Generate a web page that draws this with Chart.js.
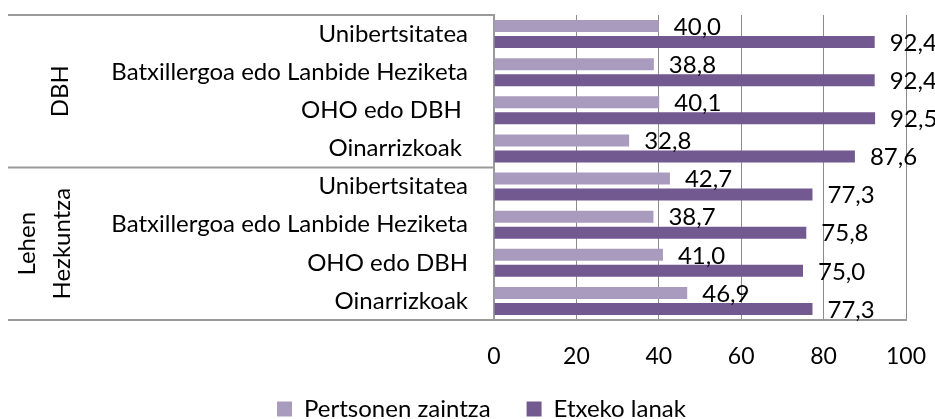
<!DOCTYPE html>
<html>
<head>
<meta charset="utf-8">
<script src="https://cdn.jsdelivr.net/npm/chart.js@4.4.0/dist/chart.umd.min.js"></script>
<style>
  body { margin: 0; background: #fff; }
  #wrap { width: 935px; height: 419px; }
</style>
</head>
<body>
<div id="wrap"><canvas id="myChart" width="935" height="419"></canvas></div>
<script>
// category labels, top to bottom (trailing spaces are in the original)
const categories = ['Unibertsitatea', 'Batxillergoa edo Lanbide Heziketa', 'OHO edo DBH ', 'Oinarrizkoak ',
                    'Unibertsitatea', 'Batxillergoa edo Lanbide Heziketa', 'OHO edo DBH', 'Oinarrizkoak'];
const groupNames = [['DBH'], ['Lehen', 'Hezkuntza']];
const groupSizes = [4, 4];

const zaintza = [40.0, 38.8, 40.1, 32.8, 42.7, 38.7, 41.0, 46.9];
const etxeko = [92.4, 92.4, 92.5, 87.6, 77.3, 75.8, 75.0, 77.3];
const seriesNames = ['Pertsonen zaintza', 'Etxeko lanak'];

const xMin = 0, xMax = 100, xStep = 20;

const FONT = 'Lato';
const FSIZE = 24;
const lineColor = '#9a9a9a';

// draws group separators, group names and the value labels
const extras = {
    id: 'extras',
    afterLayout(chart) {
        // let the x tick labels spill below the axis box instead of being clipped
        chart.scales.x.bottom = chart.height;
    },
    afterDraw(chart) {
        const ctx = chart.ctx;
        const area = chart.chartArea;
        const yScale = chart.scales.y;
        ctx.save();

        // horizontal separators left of the plot
        const bounds = [area.top];
        let idx = 0;
        groupSizes.forEach(n => {
            idx += n;
            if (idx < categories.length) {
                bounds.push((yScale.getPixelForValue(idx - 1) + yScale.getPixelForValue(idx)) / 2);
            }
        });
        bounds.push(area.bottom);
        ctx.strokeStyle = lineColor;
        ctx.lineWidth = 2;
        bounds.forEach(y => {
            ctx.beginPath();
            ctx.moveTo(8, y);
            ctx.lineTo(area.left, y);
            ctx.stroke();
        });

        // rotated group names
        ctx.fillStyle = '#000';
        ctx.font = FSIZE + 'px ' + FONT;
        ctx.textAlign = 'center';
        ctx.textBaseline = 'middle';
        groupNames.forEach((lines, g) => {
            const cy = (bounds[g] + bounds[g + 1]) / 2;
            const xs = lines.length === 1 ? [60] : [27, 62];
            lines.forEach((t, k) => {
                ctx.save();
                ctx.translate(xs[k], cy);
                ctx.rotate(-Math.PI / 2);
                ctx.fillText(t, 0, 0);
                ctx.restore();
            });
        });

        // value labels
        ctx.textAlign = 'left';
        chart.data.datasets.forEach((ds, i) => {
            const meta = chart.getDatasetMeta(i);
            meta.data.forEach((bar, j) => {
                const txt = ds.data[j].toFixed(1).replace('.', ',');
                ctx.fillText(txt, bar.x + 15, bar.y + 1);
            });
        });
        ctx.restore();
    }
};

const ctx = document.getElementById('myChart').getContext('2d');
new Chart(ctx, {
    type: 'bar',
    data: {
        labels: categories,
        datasets: [{
            label: seriesNames[0],
            data: zaintza,
            backgroundColor: '#a89bbe',
            borderWidth: 0,
            barPercentage: 0.75,
            categoryPercentage: 0.84
        }, {
            label: seriesNames[1],
            data: etxeko,
            backgroundColor: '#725990',
            borderWidth: 0,
            barPercentage: 0.75,
            categoryPercentage: 0.84
        }]
    },
    options: {
        indexAxis: 'y',
        responsive: false,
        animation: false,
        devicePixelRatio: 1,
        layout: { padding: { top: 15, left: 28, right: 0, bottom: 0 } },
        plugins: {
            tooltip: { enabled: false },
            legend: {
                position: 'bottom',
                maxHeight: 58,
                labels: {
                    boxWidth: 15,
                    boxHeight: 15,
                    padding: 36,
                    color: '#000',
                    font: { family: FONT, size: FSIZE }
                }
            }
        },
        scales: {
            x: {
                min: xMin,
                max: xMax,
                ticks: {
                    stepSize: xStep,
                    padding: 23,
                    color: '#000',
                    font: { family: FONT, size: 23 }
                },
                grid: { color: '#8c8c8c', lineWidth: 1, drawTicks: false },
                border: { color: lineColor, width: 2 },
                afterFit(scale) {
                    scale.height = 41;
                    scale.paddingLeft = 0;
                    scale.paddingRight = 29;
                }
            },
            y: {
                ticks: {
                    padding: 26,
                    color: '#000',
                    font: { family: FONT, size: FSIZE }
                },
                grid: { display: false, drawTicks: false },
                border: { color: lineColor, width: 2 },
                afterFit(scale) {
                    scale.width = 494 - 28;
                    scale.paddingTop = 0;
                    scale.paddingBottom = 0;
                }
            }
        }
    },
    plugins: [extras]
});
</script>
</body>
</html>
